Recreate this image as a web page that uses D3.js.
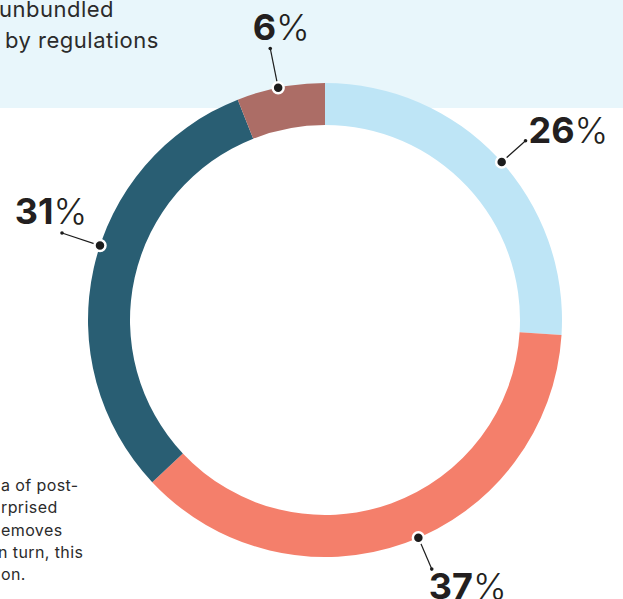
<!DOCTYPE html>
<html>
<head>
<meta charset="utf-8">
<script src="https://cdn.jsdelivr.net/npm/d3@7/dist/d3.min.js"></script>
<style>
  html, body { margin: 0; padding: 0; background: #ffffff; }
  svg { display: block; font-family: "Inter", "Open Sans", sans-serif; }
</style>
</head>
<body>
<svg id="chart" width="623" height="599"></svg>
<script>
// ---- data ----
const categories = ["Light blue", "Salmon", "Dark teal", "Brown"];
const values = [26, 37, 31, 6];
const labels = ["26", "37", "31", "6"];
const colors = ["#bee5f6", "#f47f6b", "#295e73", "#ac6d66"];
const topTextLines = ["unbundled", "by regulations"];
const bottomTextLines = ["a of post-", "rprised", "emoves", "n turn, this", "on."];

// ---- layout ----
const W = 623, H = 599;
const cx = 325, cy = 320;
const outerR = 237, innerR = 195;
const svg = d3.select("#chart");

// top light band
svg.append("rect").attr("x", 0).attr("y", 0).attr("width", W).attr("height", 108)
  .attr("fill", "#e8f6fb");

// top text (cropped paragraph)
const topText = svg.append("g").attr("fill", "#2b2b2b")
  .style("font-size", "22px").style("letter-spacing", "0.5px");
topText.append("text").attr("x", -1).attr("y", 17).text(topTextLines[0]);
topText.append("text").attr("x", 5).attr("y", 48).text(topTextLines[1]);

// bottom-left text (cropped paragraph)
const botText = svg.append("g").attr("fill", "#2b2b2b")
  .style("font-size", "16px").style("letter-spacing", "0.4px");
bottomTextLines.forEach((t, i) => {
  botText.append("text").attr("x", i === 3 ? -2 : 1).attr("y", 491 + i * 22.3).text(t);
});

// donut
const pie = d3.pie().value(d => d).sort(null).startAngle(0).endAngle(2 * Math.PI);
const arcs = pie(values);
const arc = d3.arc().innerRadius(innerR).outerRadius(outerR);
const g = svg.append("g").attr("transform", `translate(${cx},${cy})`);
g.selectAll("path.slice").data(arcs).enter().append("path")
  .attr("class", "slice")
  .attr("d", arc)
  .attr("fill", (d, i) => colors[i]);

// label callouts
const nudgeDeg = [1.4, -3.4, 5.7, -0.6];
const leaderLen = [32, 34, 40, 40];
const pt = (a, r) => [Math.sin(a) * r, -Math.cos(a) * r];

arcs.forEach((d, i) => {
  const a = (d.startAngle + d.endAngle) / 2 + nudgeDeg[i] * Math.PI / 180;
  const p0 = pt(a, outerR);
  const p1 = pt(a, outerR + leaderLen[i]);
  g.append("line")
    .attr("x1", p0[0]).attr("y1", p0[1]).attr("x2", p1[0]).attr("y2", p1[1])
    .attr("stroke", "#1c1c1c").attr("stroke-width", 1.2);
  g.append("circle").attr("cx", p1[0]).attr("cy", p1[1]).attr("r", 1.8).attr("fill", "#1c1c1c");
  g.append("circle").attr("cx", p0[0]).attr("cy", p0[1]).attr("r", 5.5)
    .attr("fill", "#1c1c1c").attr("stroke", "#ffffff").attr("stroke-width", 2.5);

  // text placement by angle region
  const deg = (a * 180 / Math.PI + 360) % 360;
  let tx, ty, anchor;
  if (deg > 315 || deg < 20) {           // top
    tx = p1[0] + 11; ty = p1[1] - 8; anchor = "middle";
  } else if (deg < 135) {                  // right
    tx = p1[0] + 3; ty = p1[1] + 2; anchor = "start";
  } else if (deg < 225) {                  // bottom
    tx = p1[0] - 3; ty = p1[1] + 30; anchor = "start";
  } else {                                 // left
    tx = p1[0] - 11; ty = p1[1] - 9; anchor = "middle";
  }
  const t = g.append("text").attr("x", tx).attr("y", ty)
    .attr("text-anchor", anchor).attr("fill", "#231f20")
    .style("font-size", "36px");
  t.append("tspan").attr("font-weight", 700).text(labels[i]);
  t.append("tspan").attr("font-weight", 300).text("%");
});
</script>
</body>
</html>
